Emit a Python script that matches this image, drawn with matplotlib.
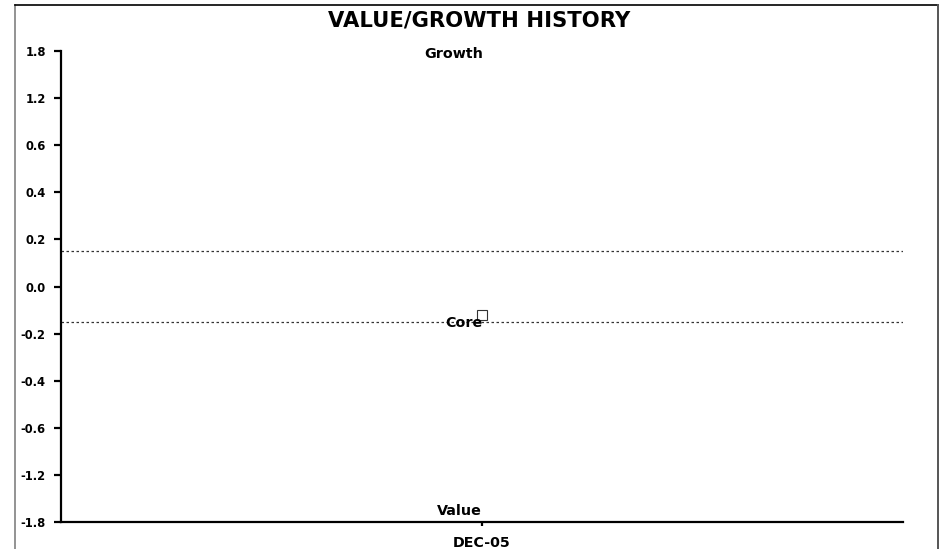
import numpy as np
import matplotlib
matplotlib.use("Agg")
import matplotlib.pyplot as plt
from matplotlib.lines import Line2D

plt.rcParams['font.family'] = ['DejaVu Sans']
plt.rcParams['font.weight'] = 'bold'

# style score ticks (uneven steps, drawn evenly spaced)
y_ticks = [-1.8, -1.2, -0.6, -0.4, -0.2, 0.0, 0.2, 0.4, 0.6, 1.2, 1.8]
y_labels = ['-1.8', '-1.2', '-0.6', '-0.4', '-0.2', '0.0', '0.2', '0.4', '0.6', '1.2', '1.8']

periods = ['DEC-05']
core_scores = [-0.12]
core_band = [-0.15, 0.15]

pos = np.arange(len(y_ticks), dtype=float)


def fwd(v):
    return np.interp(v, y_ticks, pos)


def inv(p):
    return np.interp(p, pos, y_ticks)


fig = plt.figure(figsize=(9.48, 5.49), dpi=100)
ax = fig.add_axes([61 / 948, 1 - 522 / 549, (903 - 61) / 948, (522 - 51) / 549])
ax.set_yscale('function', functions=(fwd, inv))
ax.set_ylim(-1.8, 1.8)
ax.set_xlim(-1, 1)

x = np.arange(len(periods))

for b in core_band:
    ax.axhline(b, color='#333333', lw=0.9, linestyle=(0, (2, 2)))

ax.plot(x, core_scores, linestyle='none', marker='s', markersize=7,
        markerfacecolor='none', markeredgecolor='#333333', markeredgewidth=0.8,
        zorder=3)

ax.annotate('Growth', (0, 1.8), xytext=(1, -2), textcoords='offset points',
            ha='right', va='center', fontsize=10.3, fontweight='bold')
ax.annotate('Core', (0, core_band[0]), xytext=(0, -1), textcoords='offset points',
            ha='right', va='center', fontsize=10.3, fontweight='bold')
ax.annotate('Value', (0, -1.8), xytext=(0, 3), textcoords='offset points',
            ha='right', va='bottom', fontsize=10.3, fontweight='bold')

ax.set_yticks(y_ticks)
ax.set_yticklabels(y_labels)
ax.set_xticks(x)
ax.set_xticklabels(periods)

for side in ['top', 'right']:
    ax.spines[side].set_visible(False)
for side in ['left', 'bottom']:
    ax.spines[side].set_linewidth(1.6)
ax.tick_params(axis='y', length=5, width=1.6, pad=6, labelsize=8.3)
ax.tick_params(axis='x', length=3, width=1.6, pad=7, labelsize=10.3)
ax.yaxis.set_minor_locator(matplotlib.ticker.NullLocator())

fig.text(479 / 948, 1 - 20 / 549, 'VALUE/GROWTH HISTORY', ha='center', va='center',
         fontsize=15.2, fontweight='bold')

# outer frame, open at the bottom
fig.add_artist(Line2D([15 / 948, 15 / 948], [0, 1 - 5 / 549], color='#808080', lw=1.2,
                      transform=fig.transFigure))
fig.add_artist(Line2D([15 / 948, 938 / 948], [1 - 5 / 549, 1 - 5 / 549], color='black', lw=1.2,
                      transform=fig.transFigure))
fig.add_artist(Line2D([938 / 948, 938 / 948], [0, 1 - 5 / 549], color='#555555', lw=1.4,
                      transform=fig.transFigure))

fig.savefig('out.png', dpi=100)
